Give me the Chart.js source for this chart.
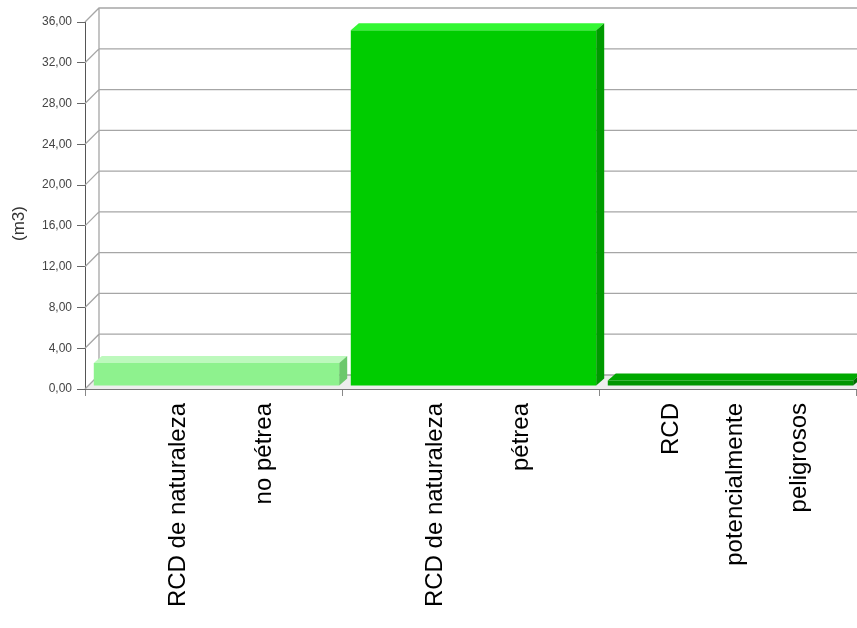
<!DOCTYPE html>
<html>
<head>
<meta charset="utf-8">
<script src="https://cdn.jsdelivr.net/npm/chart.js@4/dist/chart.umd.min.js"></script>
<style>
  body { margin: 0; background: #fff; }
  canvas { display: block; }
</style>
</head>
<body>
<canvas id="chart" width="857" height="628"></canvas>
<script>
// data
const categories = [
    ['RCD de naturaleza', 'no pétrea'],
    ['RCD de naturaleza', 'pétrea'],
    ['RCD', 'potencialmente', 'peligrosos']
];
const volumes = [2.25, 34.9, 0.55];
const yMin = 0;
const yMax = 36;
const yStep = 4;
const yTitle = '(m3)';

// bar colours: front, top, side
const frontColors = ['#8ef28e', '#00cc00', '#009500'];
const topColors = ['#bdf9bd', '#33f733', '#00a800'];
const sideColors = ['#6cc86c', '#009a00', '#006e00'];

const WALL = 14;   // depth of the back wall
const SHIFT = 3;   // bars sit a little behind the front plane
const BAR_D = 8;   // bar depth

const FONT = "Arial, 'Liberation Sans', sans-serif";

const depth3d = {
    id: 'depth3d',
    beforeDatasetsDraw(chart) {
        const ctx = chart.ctx;
        const a = chart.chartArea;
        const y = chart.scales.y;
        ctx.save();
        // floor
        ctx.fillStyle = '#ededed';
        ctx.beginPath();
        ctx.moveTo(a.left, a.bottom);
        ctx.lineTo(a.left + WALL, a.bottom - WALL);
        ctx.lineTo(a.right + WALL, a.bottom - WALL);
        ctx.lineTo(a.right, a.bottom);
        ctx.closePath();
        ctx.fill();
        // back wall grid + connectors
        ctx.strokeStyle = '#a6a6a6';
        ctx.lineWidth = 1.3;
        ctx.beginPath();
        y.ticks.forEach(t => {
            const py = y.getPixelForValue(t.value);
            ctx.moveTo(a.left, py);
            ctx.lineTo(a.left + WALL, py - WALL);
            ctx.lineTo(a.right + WALL, py - WALL);
        });
        ctx.moveTo(a.left + WALL, a.bottom - WALL);
        ctx.lineTo(a.left + WALL, a.top - WALL);
        ctx.stroke();
        ctx.restore();

        ctx.save();
        ctx.translate(SHIFT, -SHIFT);
    },
    afterDatasetsDraw(chart) {
        const ctx = chart.ctx;
        const meta = chart.getDatasetMeta(0);
        meta.data.forEach((bar, i) => {
            const p = bar.getProps(['x', 'y', 'base', 'width'], true);
            const l = p.x - p.width / 2;
            const r = p.x + p.width / 2;
            // top face
            ctx.fillStyle = topColors[i];
            ctx.beginPath();
            ctx.moveTo(l, p.y);
            ctx.lineTo(l + BAR_D, p.y - BAR_D + 1);
            ctx.lineTo(r + BAR_D, p.y - BAR_D + 1);
            ctx.lineTo(r, p.y);
            ctx.closePath();
            ctx.fill();
            // side face
            ctx.fillStyle = sideColors[i];
            ctx.beginPath();
            ctx.moveTo(r, p.y);
            ctx.lineTo(r + BAR_D, p.y - BAR_D + 1);
            ctx.lineTo(r + BAR_D, p.base - BAR_D + 1);
            ctx.lineTo(r, p.base);
            ctx.closePath();
            ctx.fill();
        });
        ctx.restore();
    },
    afterDraw(chart) {
        const ctx = chart.ctx;
        const a = chart.chartArea;
        const x = chart.scales.x;
        const catW = x.width / categories.length;
        ctx.save();
        ctx.fillStyle = '#000';
        ctx.font = '24px ' + FONT;
        ctx.textAlign = 'right';
        ctx.textBaseline = 'middle';
        x.ticks.forEach((t, i) => {
            const lines = categories[i];
            const cx = x.getPixelForTick(i) + 8;
            const gap = catW / (lines.length + 1);
            lines.forEach((line, j) => {
                const lx = cx + (j - (lines.length - 1) / 2) * gap;
                ctx.save();
                ctx.translate(lx, a.bottom + 14);
                ctx.rotate(-Math.PI / 2);
                ctx.fillText(line, 0, 0);
                ctx.restore();
            });
        });
        // y axis title
        ctx.fillStyle = '#333';
        ctx.font = '17px ' + FONT;
        ctx.textAlign = 'center';
        ctx.translate(19, (a.top + a.bottom) / 2 + 18);
        ctx.rotate(-Math.PI / 2);
        ctx.fillText(yTitle, 0, 0);
        ctx.restore();
    }
};

new Chart(document.getElementById('chart'), {
    type: 'bar',
    data: {
        labels: categories,
        datasets: [{
            data: volumes,
            backgroundColor: frontColors,
            borderWidth: 0,
            barPercentage: 0.955,
            categoryPercentage: 1.0
        }]
    },
    options: {
        responsive: false,
        devicePixelRatio: 1,
        animation: false,
        layout: {
            padding: {top: 22, right: 1, left: 0, bottom: 0}
        },
        plugins: {
            legend: {display: false},
            tooltip: {enabled: false}
        },
        scales: {
            x: {
                afterFit: (scale) => { scale.height = 239; },
                ticks: {display: false, autoSkip: false},
                grid: {
                    offset: true,
                    drawOnChartArea: false,
                    tickLength: 7,
                    color: '#888'
                },
                border: {color: '#777'}
            },
            y: {
                min: yMin,
                max: yMax,
                afterFit: (scale) => { scale.width = 85; },
                ticks: {
                    stepSize: yStep,
                    padding: 5,
                    color: '#444',
                    font: {family: FONT, size: 12},
                    callback: (v) => v.toFixed(2).replace('.', ',')
                },
                grid: {
                    drawOnChartArea: false,
                    tickLength: 8,
                    color: '#666'
                },
                border: {color: '#555'}
            }
        }
    },
    plugins: [depth3d]
});
</script>
</body>
</html>
